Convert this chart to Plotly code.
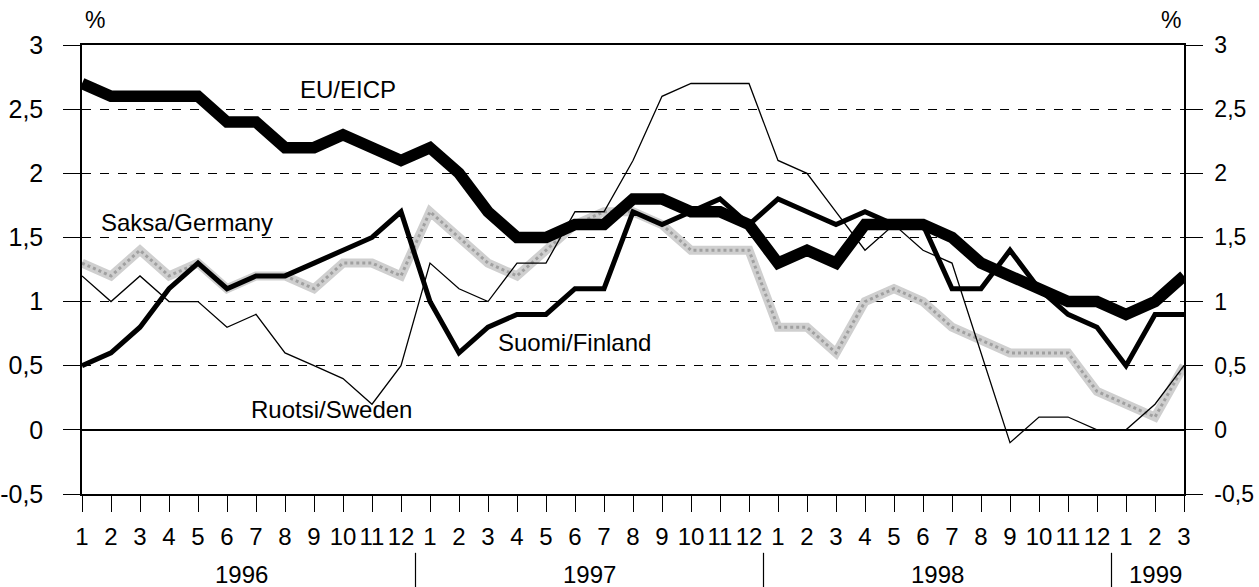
import plotly.graph_objects as go

# ---- data ----
years = ["1996", "1997", "1998", "1999"]
months_per_year = [12, 12, 12, 3]

eu_eicp = [2.7, 2.6, 2.6, 2.6, 2.6, 2.4, 2.4, 2.2, 2.2, 2.3, 2.2, 2.1,
           2.2, 2.0, 1.7, 1.5, 1.5, 1.6, 1.6, 1.8, 1.8, 1.7, 1.7, 1.6,
           1.3, 1.4, 1.3, 1.6, 1.6, 1.6, 1.5, 1.3, 1.2, 1.1, 1.0, 1.0,
           0.9, 1.0, 1.2]
finland = [0.5, 0.6, 0.8, 1.1, 1.3, 1.1, 1.2, 1.2, 1.3, 1.4, 1.5, 1.7,
           1.0, 0.6, 0.8, 0.9, 0.9, 1.1, 1.1, 1.7, 1.6, 1.7, 1.8, 1.6,
           1.8, 1.7, 1.6, 1.7, 1.6, 1.6, 1.1, 1.1, 1.4, 1.1, 0.9, 0.8,
           0.5, 0.9, 0.9]
sweden = [1.2, 1.0, 1.2, 1.0, 1.0, 0.8, 0.9, 0.6, 0.5, 0.4, 0.2, 0.5,
          1.3, 1.1, 1.0, 1.3, 1.3, 1.7, 1.7, 2.1, 2.6, 2.7, 2.7, 2.7,
          2.1, 2.0, 1.7, 1.4, 1.6, 1.4, 1.3, 0.6, -0.1, 0.1, 0.1, 0.0,
          0.0, 0.2, 0.5]
germany = [1.3, 1.2, 1.4, 1.2, 1.3, 1.1, 1.2, 1.2, 1.1, 1.3, 1.3, 1.2,
           1.7, 1.5, 1.3, 1.2, 1.4, 1.6, 1.7, 1.7, 1.6, 1.4, 1.4, 1.4,
           0.8, 0.8, 0.6, 1.0, 1.1, 1.0, 0.8, 0.7, 0.6, 0.6, 0.6, 0.3,
           0.2, 0.1, 0.5]

y_tickvals = [-0.5, 0, 0.5, 1, 1.5, 2, 2.5, 3]
y_ticktext = ["-0,5", "0", "0,5", "1", "1,5", "2", "2,5", "3"]

series_labels = ["EU/EICP", "Saksa/Germany", "Ruotsi/Sweden", "Suomi/Finland"]
label_pos = [(9.17, 2.65), (3.62, 1.62), (8.62, 0.16), (16.97, 0.68)]

# ---- derived ----
month_text = []
for n in months_per_year:
    month_text += [str(m) for m in range(1, n + 1)]
x = list(range(len(month_text)))

FONT = "Liberation Sans, Arial, sans-serif"

fig = go.Figure()
fig.add_trace(go.Scatter(x=x, y=germany, mode="lines",
                         line=dict(color="#cfcfcf", width=9), hoverinfo="skip"))
fig.add_trace(go.Scatter(x=x, y=germany, mode="lines",
                         line=dict(color="#a0a0a0", width=3, dash="dot"), hoverinfo="skip"))
fig.add_trace(go.Scatter(x=x, y=sweden, mode="lines",
                         line=dict(color="black", width=1.3), hoverinfo="skip"))
fig.add_trace(go.Scatter(x=x, y=finland, mode="lines",
                         line=dict(color="black", width=5), hoverinfo="skip"))
fig.add_trace(go.Scatter(x=x, y=eu_eicp, mode="lines",
                         line=dict(color="black", width=11.5), hoverinfo="skip"))
fig.add_trace(go.Scatter(x=[None], y=[None], yaxis="y2", hoverinfo="skip"))

annotations = []
for txt, (ax, ay) in zip(series_labels, label_pos):
    annotations.append(dict(x=ax, y=ay, xref="x", yref="y", text=txt, showarrow=False,
                            font=dict(family=FONT, size=24, color="black")))
annotations.append(dict(x=0, y=1, xref="paper", yref="paper", text="%", showarrow=False,
                        xanchor="left", yanchor="bottom", xshift=1, yshift=10,
                        font=dict(family=FONT, size=23, color="black")))
annotations.append(dict(x=1, y=1, xref="paper", yref="paper", text="%", showarrow=False,
                        xanchor="right", yanchor="bottom", xshift=-1, yshift=10,
                        font=dict(family=FONT, size=23, color="black")))

shapes = []
start = 0
for i, (yr, n) in enumerate(zip(years, months_per_year)):
    center = start + (n - 1) / 2
    annotations.append(dict(x=center, y=-0.180, xref="x", yref="paper", text=yr,
                            showarrow=False, yanchor="middle",
                            font=dict(family=FONT, size=24, color="black")))
    if i > 0:
        shapes.append(dict(type="line", xref="x", yref="paper", x0=start - 0.5, x1=start - 0.5,
                           y0=-0.131, y1=-0.21, line=dict(color="black", width=1.2)))
    start += n

fig.update_layout(
    width=1259, height=587,
    margin=dict(l=82, r=75, t=45, b=93, autoexpand=False),
    paper_bgcolor="white", plot_bgcolor="white",
    showlegend=False,
    font=dict(family=FONT, color="black"),
    annotations=annotations, shapes=shapes,
    xaxis=dict(range=[0, len(x) - 1], tickmode="array", tickvals=x, ticktext=month_text,
               ticks="outside", ticklen=16, tickcolor="black", tickwidth=1.2,
               showline=True, linecolor="black", linewidth=1.5, mirror=True,
               showgrid=False, zeroline=False, automargin=False,
               tickfont=dict(family=FONT, size=24), ticklabelstandoff=4),
    yaxis=dict(range=[-0.5, 3], tickmode="array", tickvals=y_tickvals, ticktext=y_ticktext,
               ticks="outside", ticklen=17, tickcolor="black", tickwidth=1.2,
               showline=True, linecolor="black", linewidth=1.5, automargin=False,
               showgrid=True, gridcolor="black", griddash="dash", gridwidth=1.3,
               zeroline=True, zerolinecolor="black", zerolinewidth=1.5,
               tickfont=dict(family=FONT, size=25), ticklabelstandoff=15),
    yaxis2=dict(range=[-0.5, 3], overlaying="y", side="right", tickmode="array",
                tickvals=y_tickvals, ticktext=y_ticktext,
                ticks="outside", ticklen=17, tickcolor="black", tickwidth=1.2,
                showline=True, linecolor="black", linewidth=1.5, automargin=False,
                showgrid=False, zeroline=False,
                tickfont=dict(family=FONT, size=23), ticklabelstandoff=7),
)

# remove the default page margin so the figure fills the window exactly
fig.write_html("out.html",
               config={"displayModeBar": False},
               post_script="document.body.style.margin='0px';"
                           "document.documentElement.style.overflow='hidden';")
